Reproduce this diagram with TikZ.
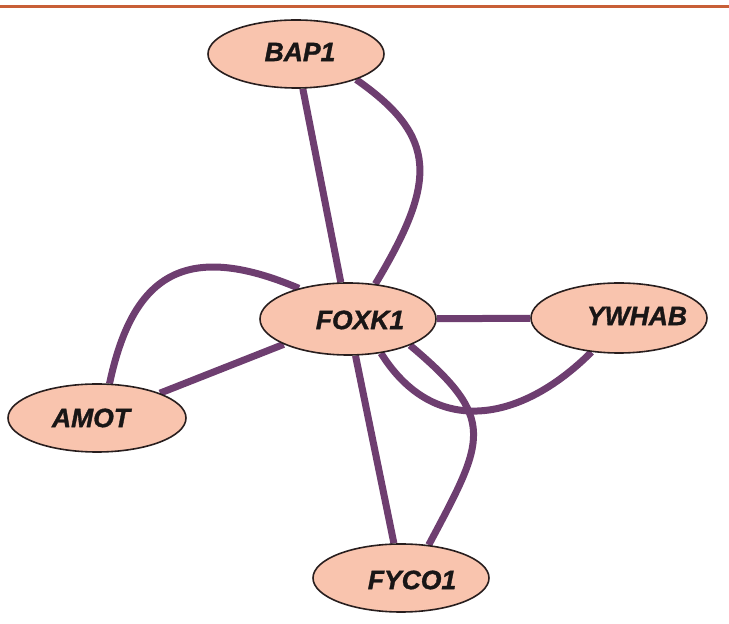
\documentclass[tikz,border=0pt]{standalone}
\usepackage{fontspec}
\setmainfont{Liberation Sans}
\newfontfamily\genefont[FakeBold=1.2]{Liberation Sans Bold Italic}
\usetikzlibrary{shapes.geometric,backgrounds}
\definecolor{gene}{RGB}{249,196,174}
\definecolor{generim}{RGB}{40,30,30}
\definecolor{link}{RGB}{110,62,112}
\definecolor{rule}{RGB}{200,95,55}
\definecolor{ink}{RGB}{25,22,22}
\tikzset{
  protein/.style={ellipse, draw=generim, line width=1.6pt, fill=gene,
    inner sep=0pt, minimum width=176pt, minimum height=68pt},
  genename/.style={font=\genefont\fontsize{26.5}{30}\selectfont, text=ink, inner sep=0pt},
  interaction/.style={draw=link, line width=7pt}
}
\begin{document}
\begin{tikzpicture}[x=1pt,y=1pt]
\useasboundingbox (0,0) rectangle (729,624);
% header rule
\draw[rule, line width=2.3pt] (0,617.5) coordinate (ruleL) -- (729,617.5) coordinate (ruleR);

% proteins
\node[protein] (bap1)  at (296,570) {};
\node[protein, minimum height=72pt] (foxk1) at (348,305) {};
\node[protein, minimum height=70pt] (ywhab) at (619,306) {};
\node[protein, minimum width=178pt] (amot)  at (97,206) {};
\node[protein] (fyco1) at (401,46) {};

\node[genename] (bap1-t)  at (300,572) {BAP1};
\node[genename] (foxk1-t) at (360,304) {FOXK1};
\node[genename] (ywhab-t) at (637,308) {YWHAB};
\node[genename] (amot-t)  at (91,206)  {AMOT};
\node[genename] (fyco1-t) at (412,44)  {FYCO1};

% interactions, behind the proteins
\begin{scope}[on background layer]
  \draw[interaction] (bap1) -- (foxk1);
  \draw[interaction] (foxk1) -- (ywhab);
  \draw[interaction] (foxk1) -- (amot);
  \draw[interaction] (foxk1) -- (fyco1);
  \draw[interaction] (bap1.-23) to[out=-35, in=59, out distance=100pt, in distance=120pt] (foxk1.52);
  \draw[interaction] (amot.70) to[out=78, in=157, out distance=110pt, in distance=125pt] (foxk1.148);
  \draw[interaction] (foxk1.-46) to[out=-58, in=225, out distance=100pt, in distance=100pt] (ywhab.231);
  \draw[interaction] (foxk1.-23) to[out=-40, in=62, out distance=115pt, in distance=120pt] (fyco1.50);
\end{scope}
\end{tikzpicture}
\end{document}
